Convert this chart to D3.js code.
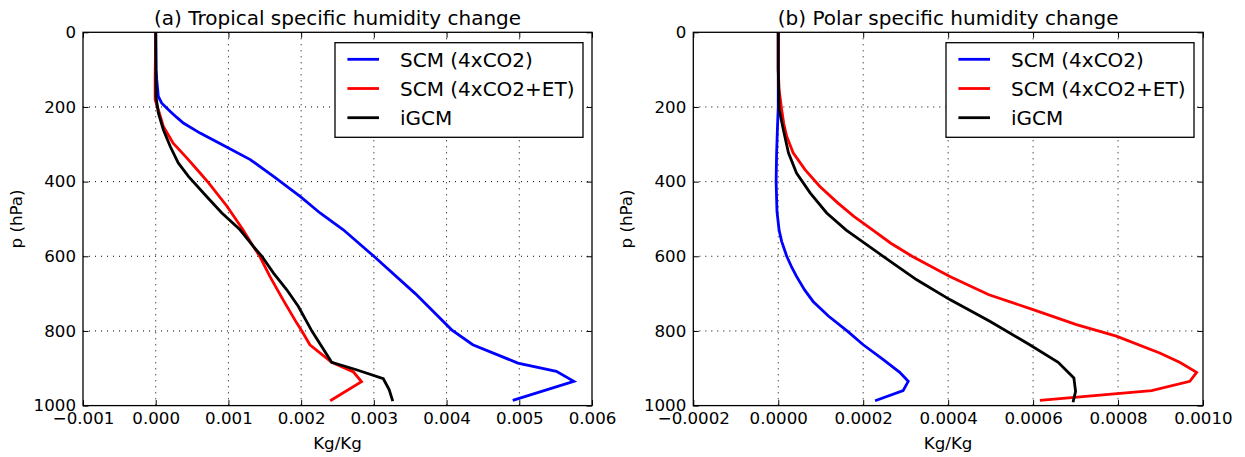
<!DOCTYPE html>
<html>
<head>
<meta charset="utf-8">
<script src="https://cdn.jsdelivr.net/npm/d3@7"></script>
<style>
  body { margin: 0; background: #fff; }
  text { font-family: "DejaVu Sans", sans-serif; fill: #000; }
</style>
</head>
<body>
<svg id="chart" width="1245" height="457"></svg>
<script>
// ---- data (p in hPa, q in Kg/Kg) ----
const seriesNames = ['SCM (4xCO2)', 'SCM (4xCO2+ET)', 'iGCM'];
const seriesColors = ['#0000ff', '#ff0000', '#000000'];

const tropP_scm = [0, 100, 127, 172, 190, 212, 228, 243, 270, 310, 341, 386, 440, 484, 529, 600, 700, 797, 837, 886, 908, 935, 986];
const tropQ_scm = [0, 0.000005, 0.000014, 0.000036, 0.000083, 0.0002, 0.00029, 0.00038, 0.00061, 0.001, 0.0013, 0.00162, 0.00199, 0.00226, 0.00258, 0.003, 0.00357, 0.00407, 0.00436, 0.00498, 0.00551, 0.00575, 0.00491];

const tropP_et = [0, 127, 181, 207, 252, 297, 337, 377, 404, 466, 529, 573, 600, 654, 716, 779, 800, 837, 884, 910, 936, 987];
const tropQ_et = [0, -0.000008, -0.000008, 0.000036, 0.000105, 0.00024, 0.00043, 0.00061, 0.00073, 0.00098, 0.0012, 0.00134, 0.00143, 0.00157, 0.00175, 0.00194, 0.00201, 0.00212, 0.00242, 0.00272, 0.00283, 0.0024];

const tropP_gcm = [0, 172, 216, 261, 306, 350, 386, 440, 484, 529, 573, 600, 645, 689, 734, 801, 884, 904, 928, 957, 988];
const tropQ_gcm = [0, 0.000004, 0.000036, 0.000105, 0.0002, 0.00031, 0.00045, 0.0007, 0.00091, 0.00116, 0.00134, 0.00146, 0.00162, 0.0018, 0.00196, 0.00215, 0.00242, 0.00276, 0.00313, 0.00321, 0.00326];

const polP_scm = [0, 100, 200, 260, 330, 400, 480, 530, 560, 600, 630, 654, 690, 721, 760, 800, 837, 875, 911, 935, 960, 987];
const polQ_scm = [0, 0, 0, -0.000002, -0.000004, -0.000005, -0.000003, 0.000002, 0.000008, 0.00002, 0.000032, 0.000043, 0.000062, 0.000082, 0.000118, 0.000162, 0.0002, 0.000245, 0.000286, 0.000306, 0.000294, 0.000228];

const polP_et = [0, 100, 154, 207, 245, 279, 323, 368, 413, 457, 493, 529, 565, 600, 654, 703, 743, 783, 814, 859, 884, 911, 935, 960, 986];
const polQ_et = [0, 0, 0.000002, 0.000008, 0.000013, 0.00002, 0.000035, 0.000063, 0.000098, 0.00014, 0.000178, 0.000222, 0.000265, 0.000315, 0.000404, 0.000496, 0.0006, 0.000702, 0.000796, 0.000898, 0.000945, 0.000985, 0.000969, 0.000879, 0.000616];

const polP_gcm = [0, 100, 206, 261, 323, 377, 430, 484, 530, 600, 663, 716, 774, 837, 884, 926, 962, 991];
const polQ_gcm = [0, 0, 0.000002, 0.000012, 0.000024, 0.000043, 0.000075, 0.000114, 0.00016, 0.000247, 0.000326, 0.000404, 0.000498, 0.000592, 0.000659, 0.000696, 0.0007, 0.000694];

const pTicks = [0, 200, 400, 600, 800, 1000];
const tropTicks = [-0.001, 0, 0.001, 0.002, 0.003, 0.004, 0.005, 0.006];
const polTicks = [-0.0002, 0, 0.0002, 0.0004, 0.0006, 0.0008, 0.0010];

const svg = d3.select('#chart');
svg.append('rect').attr('width', 1245).attr('height', 457).attr('fill', '#fff');

const plotTop = 32.3, plotBottom = 405.6;

function drawPanel(opt) {
  const x = d3.scaleLinear().domain(opt.xDomain).range([opt.left, opt.right]);
  const y = d3.scaleLinear().domain([0, 1000]).range([plotTop, plotBottom]);
  const g = svg.append('g');

  // dotted grid
  g.append('g').selectAll('line')
    .data(opt.xTicks.slice(1, -1))
    .enter().append('line')
    .attr('x1', d => x(d)).attr('x2', d => x(d))
    .attr('y1', plotTop).attr('y2', plotBottom)
    .attr('stroke', '#000').attr('stroke-width', 1)
    .attr('stroke-dasharray', '1,5');
  g.append('g').selectAll('line')
    .data(pTicks.slice(1, -1))
    .enter().append('line')
    .attr('y1', d => y(d)).attr('y2', d => y(d))
    .attr('x1', opt.left).attr('x2', opt.right)
    .attr('stroke', '#000').attr('stroke-width', 1)
    .attr('stroke-dasharray', '1,5');

  // profiles
  const line = d3.line().x(d => x(d[0])).y(d => y(d[1]));
  opt.series.forEach((s, i) => {
    g.append('path')
      .datum(s.q.map((q, k) => [q, s.p[k]]))
      .attr('d', line)
      .attr('fill', 'none')
      .attr('stroke', seriesColors[i])
      .attr('stroke-width', 2.8)
      .attr('stroke-linejoin', 'miter');
  });

  // axes with inward ticks on all four sides
  const styleAxis = sel => {
    sel.select('.domain').remove();
    sel.selectAll('.tick line').attr('stroke', '#000').attr('stroke-width', 1);
    sel.selectAll('.tick text').style('font-size', '16.67px')
      .style('font-family', '"DejaVu Sans", sans-serif').attr('fill', '#000');
  };
  g.append('g').attr('transform', `translate(0,${plotBottom})`)
    .call(d3.axisBottom(x).tickValues(opt.xTicks).tickFormat(d3.format(opt.fmt)).tickSize(-5.5).tickPadding(7))
    .call(styleAxis);
  g.append('g').attr('transform', `translate(0,${plotTop})`)
    .call(d3.axisTop(x).tickValues(opt.xTicks).tickFormat('').tickSize(-5.5))
    .call(styleAxis);
  g.append('g').attr('transform', `translate(${opt.left},0)`)
    .call(d3.axisLeft(y).tickValues(pTicks).tickFormat(d3.format('d')).tickSize(-5.5).tickPadding(7))
    .call(styleAxis);
  g.append('g').attr('transform', `translate(${opt.right},0)`)
    .call(d3.axisRight(y).tickValues(pTicks).tickFormat('').tickSize(-5.5))
    .call(styleAxis);

  g.append('rect')
    .attr('x', opt.left).attr('y', plotTop)
    .attr('width', opt.right - opt.left).attr('height', plotBottom - plotTop)
    .attr('fill', 'none').attr('stroke', '#000').attr('stroke-width', 1.3);

  // title & labels
  const cx = (opt.left + opt.right) / 2;
  g.append('text').attr('x', cx).attr('y', 24.5).attr('text-anchor', 'middle')
    .style('font-size', '20px').text(opt.title);
  g.append('text').attr('x', cx).attr('y', 449).attr('text-anchor', 'middle')
    .style('font-size', '16.67px').text('Kg/Kg');
  g.append('text')
    .attr('transform', `translate(${opt.left - 61},${(plotTop + plotBottom) / 2}) rotate(-90)`)
    .attr('text-anchor', 'middle')
    .style('font-size', '16.67px').text('p (hPa)');

  // legend
  const lg = g.append('g').attr('transform', `translate(${opt.right - 9 - 248},42.7)`);
  lg.append('rect').attr('width', 248).attr('height', 94.6)
    .attr('fill', '#fff').attr('stroke', '#000').attr('stroke-width', 1.3);
  seriesNames.forEach((name, i) => {
    const yy = 16.6 + i * 29.2;
    lg.append('line').attr('x1', 12.4).attr('x2', 44).attr('y1', yy).attr('y2', yy)
      .attr('stroke', seriesColors[i]).attr('stroke-width', 2.8);
    lg.append('text').attr('x', 65).attr('y', yy + 7.3)
      .style('font-size', '20px').text(name);
  });
}

drawPanel({
  left: 83, right: 592,
  xDomain: [-0.001, 0.006], xTicks: tropTicks, fmt: '.3f',
  title: '(a) Tropical specific humidity change',
  series: [
    { p: tropP_scm, q: tropQ_scm },
    { p: tropP_et, q: tropQ_et },
    { p: tropP_gcm, q: tropQ_gcm }
  ]
});

drawPanel({
  left: 693.3, right: 1203,
  xDomain: [-0.0002, 0.0010], xTicks: polTicks, fmt: '.4f',
  title: '(b) Polar specific humidity change',
  series: [
    { p: polP_scm, q: polQ_scm },
    { p: polP_et, q: polQ_et },
    { p: polP_gcm, q: polQ_gcm }
  ]
});
</script>
</body>
</html>
